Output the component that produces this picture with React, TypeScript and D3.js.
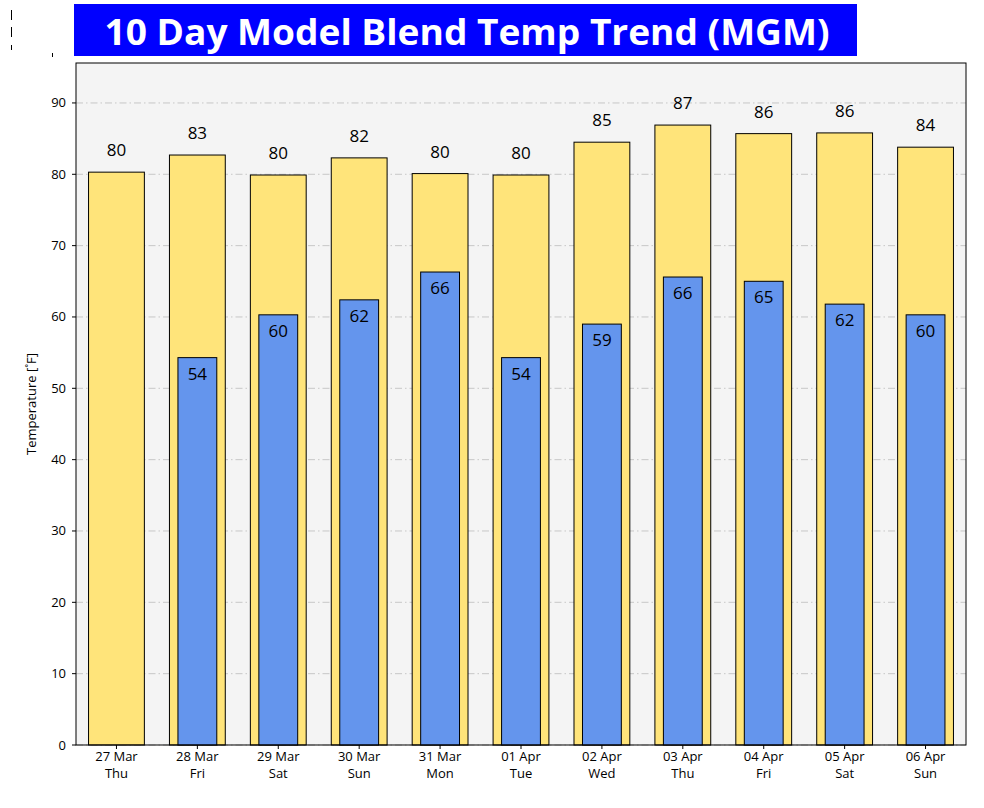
import * as d3 from "d3";

const days = ["27 Mar", "28 Mar", "29 Mar", "30 Mar", "31 Mar", "01 Apr", "02 Apr", "03 Apr", "04 Apr", "05 Apr", "06 Apr"];
const weekdays = ["Thu", "Fri", "Sat", "Sun", "Mon", "Tue", "Wed", "Thu", "Fri", "Sat", "Sun"];
const highs = [80.3, 82.7, 79.9, 82.3, 80.1, 79.9, 84.5, 86.9, 85.7, 85.8, 83.8];
const lows: (number | null)[] = [null, 54.3, 60.3, 62.4, 66.3, 54.3, 59.0, 65.6, 65.0, 61.8, 60.3];
const yTicks = [0, 10, 20, 30, 40, 50, 60, 70, 80, 90];

const W = 984;
const H = 808;
const m = { left: 76, right: 18, top: 63, bottom: 63 };
const font = "'Open Sans', 'DejaVu Sans', sans-serif";

export default function App() {
  const x = d3
    .scaleBand<number>()
    .domain(days.map((_, i) => i))
    .range([m.left, W - m.right]);
  const y = d3.scaleLinear().domain([0, 95.6]).range([H - m.bottom, m.top]);
  const bw = x.bandwidth();
  const hiW = bw * 0.69;
  const loW = bw * 0.48;

  return (
    <div style={{ position: "fixed", left: 0, top: 0 }}>
      <svg width={W} height={H} style={{ display: "block", background: "#fff" }}>
        {/* stray marks at the top left */}
        <g stroke="#000" strokeWidth={1}>
          <line x1={11.5} y1={10} x2={11.5} y2={20} />
          <line x1={11.5} y1={27} x2={11.5} y2={37} />
          <line x1={11.5} y1={45} x2={11.5} y2={50} />
          <line x1={52.5} y1={53} x2={52.5} y2={57} />
        </g>

        <rect x={74} y={4} width={783} height={52} fill="#0000ff" />
        <text
          x={467}
          y={45}
          fill="#fff"
          fontFamily={font}
          fontWeight={700}
          fontSize={36}
          textAnchor="middle"
          textLength={725}
          lengthAdjust="spacingAndGlyphs"
        >
          10 Day Model Blend Temp Trend (MGM)
        </text>

        <rect x={m.left} y={m.top} width={W - m.left - m.right} height={H - m.top - m.bottom} fill="#f4f4f4" />

        {yTicks.map((t) => (
          <line
            key={`g${t}`}
            x1={m.left}
            x2={W - m.right}
            y1={y(t)}
            y2={y(t)}
            stroke="#c2c2c2"
            strokeWidth={0.9}
            strokeDasharray="7,3,1.5,3"
          />
        ))}

        {highs.map((v, i) => (
          <g key={`h${i}`}>
            <rect
              x={x(i)! + (bw - hiW) / 2}
              y={y(v)}
              width={hiW}
              height={y(0) - y(v)}
              fill="#ffe47a"
              stroke="#000"
              strokeWidth={1}
            />
            <text x={x(i)! + bw / 2} y={y(v) - 16} fontFamily={font} fontSize={17} textAnchor="middle" fill="#000">
              {Math.round(v)}
            </text>
          </g>
        ))}

        {lows.map((v, i) =>
          v == null ? null : (
            <g key={`l${i}`}>
              <rect
                x={x(i)! + (bw - loW) / 2}
                y={y(v)}
                width={loW}
                height={y(0) - y(v)}
                fill="#6495ed"
                stroke="#000"
                strokeWidth={1}
              />
              <text x={x(i)! + bw / 2} y={y(v) + 22} fontFamily={font} fontSize={17} textAnchor="middle" fill="#000">
                {Math.round(v)}
              </text>
            </g>
          )
        )}

        <rect
          x={m.left}
          y={m.top}
          width={W - m.left - m.right}
          height={H - m.top - m.bottom}
          fill="none"
          stroke="#000"
          strokeWidth={1}
        />

        {yTicks.map((t) => (
          <g key={`t${t}`}>
            <line x1={m.left - 4} x2={m.left} y1={y(t)} y2={y(t)} stroke="#000" />
            <text x={m.left - 10} y={y(t) + 4.5} fontFamily={font} fontSize={13} textAnchor="end" fill="#000">
              {t}
            </text>
          </g>
        ))}

        {days.map((d, i) => (
          <g key={`x${i}`}>
            <line x1={x(i)! + bw / 2} x2={x(i)! + bw / 2} y1={H - m.bottom} y2={H - m.bottom + 4} stroke="#000" />
            <text x={x(i)! + bw / 2} y={H - m.bottom + 16} fontFamily={font} fontSize={13} textAnchor="middle" fill="#000">
              {d}
            </text>
            <text x={x(i)! + bw / 2} y={H - m.bottom + 33} fontFamily={font} fontSize={13} textAnchor="middle" fill="#000">
              {weekdays[i]}
            </text>
          </g>
        ))}

        <text
          transform={`translate(36, ${(m.top + H - m.bottom) / 2}) rotate(-90)`}
          fontFamily={font}
          fontSize={13}
          textAnchor="middle"
          fill="#000"
        >
          Temperature [˚F]
        </text>
      </svg>
    </div>
  );
}
